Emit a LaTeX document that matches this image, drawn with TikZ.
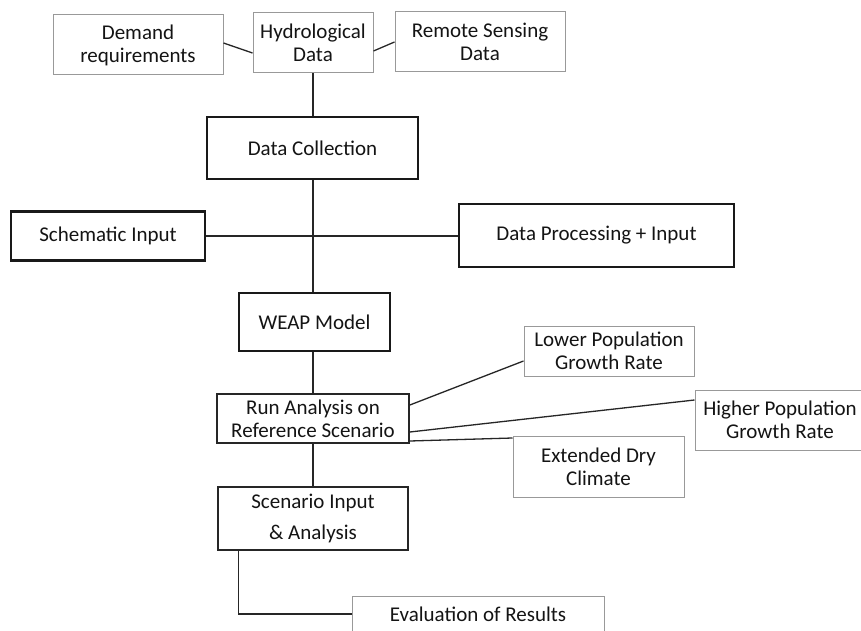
\documentclass[tikz,border=0pt]{standalone}
\usepackage{fontspec}
\setmainfont{Carlito}
\begin{document}
\begin{tikzpicture}[x=1pt,y=-1pt,
  every node/.style={font=\fontsize{21}{23}\selectfont, text=black!92, align=center, inner sep=0pt},
  thinbox/.style={draw=black!40, line width=1pt, rectangle},
  thickbox/.style={draw=black!90, line width=2.6pt, rectangle},
  midbox/.style={draw=black!85, line width=1.7pt, rectangle},
  conn/.style={draw=black!85, line width=1.3pt}]
\useasboundingbox (0,0) rectangle (861,631);
\fill[white] (0,0) rectangle (861,631);
% top row
\node[thinbox, minimum width=170pt, minimum height=60pt] (dem) at (138,45) {Demand\\requirements};
\node[thinbox, minimum width=120pt, minimum height=60pt] (hyd) at (313,43) {Hydrological\\Data};
\node[thinbox, minimum width=170pt, minimum height=60pt] (rem) at (480,42) {Remote Sensing\\Data};
% main chain
\node[thickbox, minimum width=211pt, minimum height=62pt] (dc) at (312.5,148) {Data Collection};
\node[thickbox, minimum width=194pt, minimum height=49pt] (sch) at (108,236) {Schematic Input};
\node[thickbox, minimum width=275pt, minimum height=63pt] (dp) at (596.5,235.5) {Data Processing + Input};
\node[thickbox, minimum width=151pt, minimum height=58pt] (weap) at (314.5,322) {WEAP Model};
\node[midbox, minimum width=192pt, minimum height=49pt] (run) at (313,418.5) {Run Analysis on\\Reference Scenario};
\node[midbox, minimum width=190pt, minimum height=63pt] (scen) at (313,518.5) {Scenario Input\\[8pt]\& Analysis};
% scenarios
\node[thinbox, minimum width=170pt, minimum height=50pt] (low) at (609,351) {Lower Population\\Growth Rate};
\node[thinbox, minimum width=170pt, minimum height=60pt] (high) at (780,420) {Higher Population\\Growth Rate};
\node[thinbox, minimum width=171pt, minimum height=61pt] (dry) at (598.5,466.5) {Extended Dry\\Climate};
\node[thinbox, minimum width=252pt, minimum height=36pt] (eval) at (478,614) {Evaluation of Results};
% connectors
\draw[conn] ([yshift=2pt]dem.east) -- ([yshift=-10pt]hyd.west);
\draw[conn] ([yshift=-8pt]hyd.east) -- (rem.west);
\draw[conn] (hyd.south) -- (hyd.south |- dc.north);
\draw[conn] ([xshift=0.5pt]dc.south) -- ([xshift=0.5pt]dc.south |- weap.north);
\draw[conn] (sch.east) -- (sch.east -| dp.west);
\draw[conn] ([xshift=-1.5pt]weap.south) -- (run.north);
\draw[conn] (run.south) -- (scen.north);
\draw[conn] ([yshift=13.5pt]run.east) -- ([yshift=-10pt]low.west);
\draw[conn] ([yshift=-13.5pt]run.east) -- ([yshift=20pt]high.west);
\draw[conn] ([yshift=-22.5pt]run.east) -- ([yshift=28.5pt]dry.west);
\draw[conn] ([xshift=21pt]scen.south west) |- (eval.west);
\end{tikzpicture}
\end{document}
